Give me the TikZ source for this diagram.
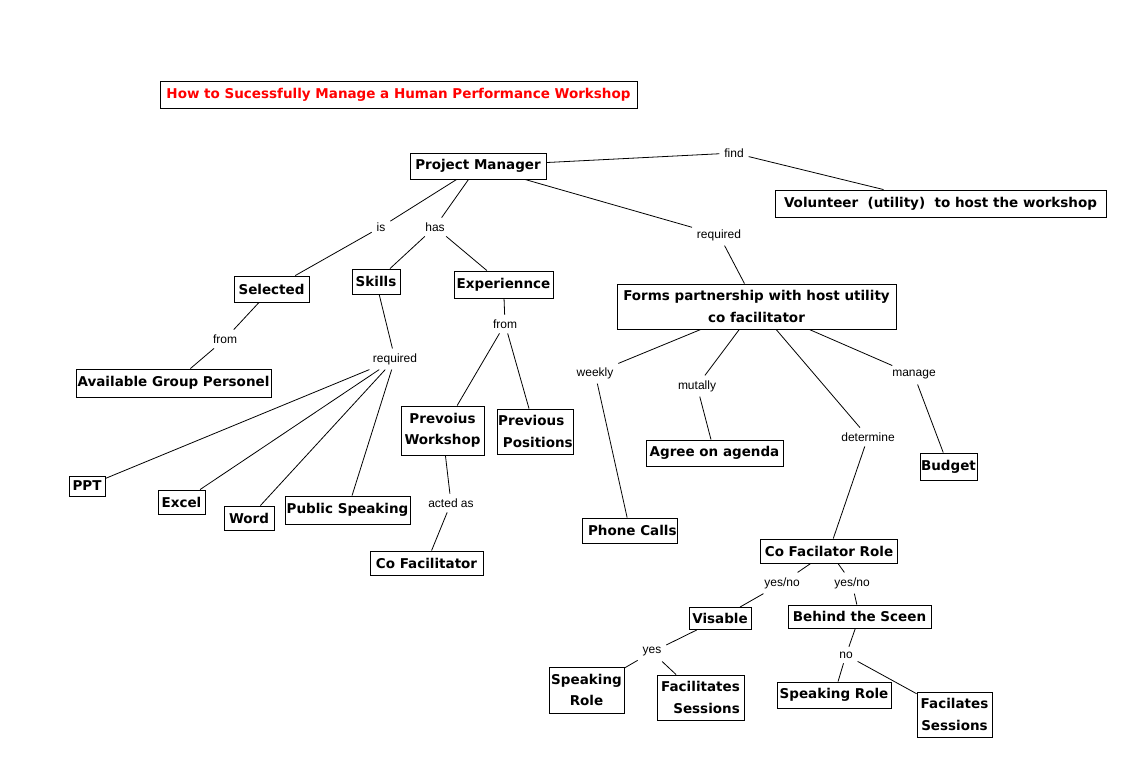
\documentclass[tikz,border=0pt]{standalone}
\usepackage{fontspec}
\setmainfont{Liberation Sans}
\newfontfamily\boxfont{DejaVu Sans}
\begin{document}
\begin{tikzpicture}[x=1pt,y=-1pt,
  cbox/.style={draw=black,line width=0.9pt,inner sep=1pt,align=center,
    font=\boxfont\bfseries\fontsize{13.5}{21.5}\selectfont},
  lbl/.style={inner sep=2pt,outer sep=3pt,font=\fontsize{12}{14}\selectfont},
  conn/.style={draw=black,line width=0.8pt}]
\useasboundingbox (0,0) rectangle (1146,777);
% concepts
\node[cbox,text=red,minimum width=477pt,minimum height=27pt] (title) at (398.5,94.5) {How to Sucessfully Manage a Human Performance Workshop};
\node[cbox,minimum width=136pt,minimum height=26pt] (pm) at (478,166) {Project Manager};
\node[cbox,minimum width=331pt,minimum height=27pt] (vol) at (940.5,203.5) {Volunteer\ \ (utility)\ \ to host the workshop};
\node[cbox,minimum width=75pt,minimum height=26pt] (sel) at (271.5,289) {Selected};
\node[cbox,minimum width=48pt,minimum height=25pt] (skills) at (376,281.5) {Skills};
\node[cbox,minimum width=99pt,minimum height=27pt] (exp) at (503.5,284.5) {Experiennce};
\node[cbox,minimum width=279pt,minimum height=45pt] (forms) at (756.5,306.5) {Forms partnership with host utility\\co facilitator};
\node[cbox,minimum width=195pt,minimum height=28pt] (avail) at (173.5,383) {Available Group Personel};
\node[cbox,minimum width=83pt,minimum height=49pt] (prevw) at (442.5,430.5) {Prevoius\\Workshop};
\node[cbox,minimum width=73pt,minimum height=45pt,align=left] (prevp) at (535.5,431.5) {Previous\\\ Positions};
\node[cbox,minimum width=137pt,minimum height=26pt] (agree) at (714.5,453) {Agree on agenda};
\node[cbox,minimum width=57pt,minimum height=27pt] (budget) at (948.5,466.5) {Budget};
\node[cbox,minimum width=36pt,minimum height=20pt] (ppt) at (87,486) {PPT};
\node[cbox,minimum width=47pt,minimum height=24pt] (excel) at (181.5,502) {Excel};
\node[cbox,minimum width=50pt,minimum height=24pt] (word) at (249,518) {Word};
\node[cbox,minimum width=125pt,minimum height=28pt] (pubsp) at (347.5,510) {Public Speaking};
\node[cbox,minimum width=113pt,minimum height=24pt] (cofac) at (426.5,563) {Co Facilitator};
\node[cbox,minimum width=94pt,minimum height=25pt] (phone) at (630,530.5) {\ Phone Calls};
\node[cbox,minimum width=137pt,minimum height=24pt] (role) at (829,551) {Co Facilator Role};
\node[cbox,minimum width=62pt,minimum height=22pt] (vis) at (720,618.5) {Visable};
\node[cbox,minimum width=143pt,minimum height=23pt] (behind) at (859.5,616.5) {Behind the Sceen};
\node[cbox,minimum width=75pt,minimum height=46pt] (spk1) at (586.5,690) {Speaking\\Role};
\node[cbox,minimum width=87pt,minimum height=45pt,align=right] (facs1) at (700.5,697.5) {Facilitates\\Sessions};
\node[cbox,minimum width=114pt,minimum height=26pt] (spk2) at (834,695) {Speaking Role};
\node[cbox,minimum width=75pt,minimum height=45pt] (facs2) at (954.5,714.5) {Facilates\\Sessions};
% linking phrases
\node[lbl] (find) at (734,153) {find};
\node[lbl] (is) at (381,227) {is};
\node[lbl] (has) at (435,227) {has};
\node[lbl] (req1) at (719,235) {required};
\node[lbl] (from1) at (225,339) {from};
\node[lbl] (from2) at (505,324) {from};
\node[lbl] (req2) at (395,359) {required};
\node[lbl] (weekly) at (595,373) {weekly};
\node[lbl] (mut) at (697,386) {mutally};
\node[lbl] (manage) at (914,375) {manage};
\node[lbl] (det) at (868,437) {determine};
\node[lbl] (acted) at (451,503) {acted as};
\node[lbl] (yn1) at (782,583) {yes/no};
\node[lbl] (yn2) at (852,583) {yes/no};
\node[lbl] (yes) at (652,652) {yes};
\node[lbl] (no) at (846,655) {no};
% connectors
\draw[conn] (pm) -- (find) -- (vol);
\draw[conn] (pm) -- (is) -- (sel);
\draw[conn] (pm) -- (has) -- (skills);
\draw[conn] (has) -- (exp);
\draw[conn] (pm) -- (req1) -- (forms);
\draw[conn] (sel) -- (from1) -- (avail);
\draw[conn] (skills) -- (req2);
\draw[conn] (req2) -- (ppt);
\draw[conn] (req2) -- (excel);
\draw[conn] (req2) -- (word);
\draw[conn] (req2) -- (pubsp);
\draw[conn] (exp) -- (from2) -- (prevw);
\draw[conn] (from2) -- (prevp);
\draw[conn] (prevw) -- (acted) -- (cofac);
\draw[conn] (forms) -- (weekly) -- (phone);
\draw[conn] (forms) -- (mut) -- (agree);
\draw[conn] (forms) -- (det) -- (role);
\draw[conn] (forms) -- (manage) -- (budget);
\draw[conn] (role) -- (yn1) -- (vis);
\draw[conn] (role) -- (yn2) -- (behind);
\draw[conn] (vis) -- (yes) -- (spk1);
\draw[conn] (yes) -- (facs1);
\draw[conn] (behind) -- (no) -- (spk2);
\draw[conn] (no) -- (facs2);
\end{tikzpicture}
\end{document}
